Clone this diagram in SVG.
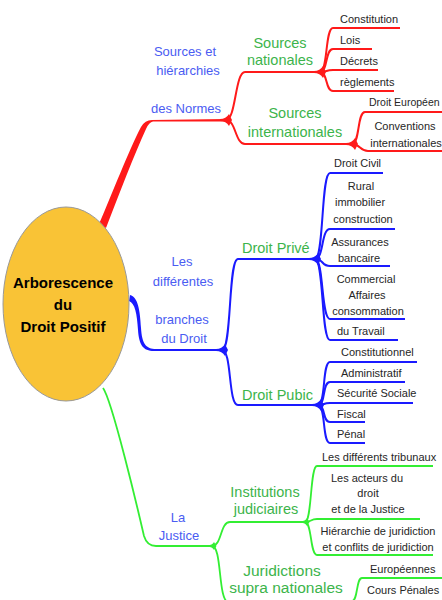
<svg xmlns="http://www.w3.org/2000/svg" width="442" height="600" viewBox="0 0 442 600">
<style>
text{font-family:"Liberation Sans","DejaVu Sans",Arial,sans-serif}
.leaf{font-size:11px;fill:#262626}
.gl{font-size:14.5px;fill:#3cb44b}
.bl{font-size:13px;fill:#4a5cf2}
.m{text-anchor:middle}
.root{font-size:15px;font-weight:bold;fill:#000}
.r{fill:none;stroke:#ff1a1a;stroke-width:2}
.b{fill:none;stroke:#1a1aff;stroke-width:2}
.g{fill:none;stroke:#33ee33;stroke-width:1.8}
.rf{fill:#ff1a1a}.bf{fill:#1a1aff}.gf{fill:#33ee33}
</style>
<defs>
  <path id="fan" d="M-7 -1 Q-1 -1 2 -6 L5 0 L2 6 Q-1 1 -7 1 Z"/>
  <path id="fans" d="M-5 -0.8 Q-1 -0.8 1 -4 L3.5 0 L1 4 Q-1 0.8 -5 0.8 Z"/>
</defs>
<rect width="442" height="600" fill="#fff"/>
<g id="connectors">
  <!-- main branches -->
  <path class="rf" d="M99 224 C113 192 128 152 141 127 Q145 120 152 120 L226 119 L226 121.5 L153 121.5 Q149 122 146 129 C134 155 120 192 106 228 Z"/>
  <path class="bf" d="M130 295 C138 297 140 310 141 328 C142 344 146 349 156 349 L222 349 L222 351 L154 351 C143 351 139 345 138 330 C137 314 135 303 129 301 Z"/>
  <path class="g" d="M103 388 C112 400 138 510 144 536 Q147 546 156 546 L212 546"/>
  <!-- red sub -->
  <path class="r" d="M226 120 C236 120 235 72 245 72 H318"/>
  <path class="r" d="M226 120 C236 120 235 144 245 144 H350"/>
  <use href="#fan" class="rf" x="227" y="120"/>
  <path class="r" d="M320 72 C328 72 325 28 333 28 H400"/>
  <path class="r" d="M320 72 C328 72 325 49 333 49 H372"/>
  <path class="r" d="M320 72 C328 72 325 70 333 70 H378"/>
  <path class="r" d="M320 72 C328 72 325 91 333 91 H394"/>
  <use href="#fan" class="rf" x="321" y="72"/>
  <path class="r" d="M352 144 C360 144 357 112 365 112 H442"/>
  <path class="r" d="M352 144 C360 144 360 151 368 151 H442"/>
  <use href="#fan" class="rf" x="353" y="144"/>
  <!-- blue sub -->
  <path class="b" d="M222 350 C232 350 228 259 238 259 H315"/>
  <path class="b" d="M222 350 C232 350 228 405 238 405 H318"/>
  <use href="#fan" class="bf" x="223" y="350"/>
  <path class="b" d="M315 259 C324 259 321 173 330 173 H383"/>
  <path class="b" d="M315 259 C324 259 321 229 330 229 H395"/>
  <path class="b" d="M315 259 C324 259 321 266 330 266 H390"/>
  <path class="b" d="M315 259 C324 259 321 319 330 319 H405"/>
  <path class="b" d="M315 259 C324 259 321 340 330 340 H398"/>
  <use href="#fan" class="bf" x="316" y="259"/>
  <path class="b" d="M318 405 C326 405 322 362 330 362 H417"/>
  <path class="b" d="M318 405 C326 405 322 382 330 382 H405"/>
  <path class="b" d="M318 405 C326 405 322 403 330 403 H413"/>
  <path class="b" d="M318 405 C326 405 322 422 330 422 H365"/>
  <path class="b" d="M318 405 C326 405 322 443 330 443 H365"/>
  <use href="#fan" class="bf" x="319" y="405"/>
  <!-- green sub -->
  <path class="g" d="M212 546 C222 546 220 522 230 522 H305"/>
  <path class="g" d="M212 546 C222 546 218 600 228 602 H350"/>
  <use href="#fans" class="gf" x="213" y="546"/>
  <path class="g" d="M305 522 C312 522 310 466 317 466 H433"/>
  <path class="g" d="M305 522 C312 522 310 519 317 519 H420"/>
  <path class="g" d="M305 522 C312 522 310 555 317 555 H433"/>
  <use href="#fans" class="gf" x="306" y="522"/>
  <path class="g" d="M352 601 C358 601 356 578 362 578 H442"/>
</g>
<g id="root">
  <ellipse cx="66" cy="304" rx="63" ry="97" fill="#f9c336" stroke="#999" stroke-width="1"/>
  <text class="root m" x="63" y="288">Arborescence</text>
  <text class="root m" x="63" y="310">du</text>
  <text class="root m" x="63" y="332">Droit Positif</text>
</g>
<g id="sources">
  <text class="bl m" x="185" y="56">Sources et</text>
  <text class="bl m" x="188" y="75">hiérarchies</text>
  <text class="bl m" x="186" y="113">des Normes</text>
</g>
<g id="sources-nationales">
  <text class="gl m" x="280" y="48">Sources</text>
  <text class="gl m" x="280" y="65">nationales</text>
</g>
<g id="sources-internationales">
  <text class="gl m" x="295" y="118">Sources</text>
  <text class="gl m" x="295" y="137">internationales</text>
</g>
<g id="constitution"><text class="leaf" x="340" y="23">Constitution</text></g>
<g id="lois"><text class="leaf" x="340" y="44">Lois</text></g>
<g id="decrets"><text class="leaf" x="340" y="65">Décrets</text></g>
<g id="reglements"><text class="leaf" x="340" y="86">règlements</text></g>
<g id="droit-europeen"><text class="leaf" x="369" y="106" style="font-size:10.5px">Droit Européen</text></g>
<g id="conventions">
  <text class="leaf m" x="405" y="130">Conventions</text>
  <text class="leaf m" x="406" y="147">internationales</text>
</g>
<g id="branches">
  <text class="bl m" x="182" y="266">Les</text>
  <text class="bl m" x="183" y="286">différentes</text>
  <text class="bl m" x="182" y="324">branches</text>
  <text class="bl m" x="184" y="343">du Droit</text>
</g>
<g id="droit-prive"><text class="gl" x="242" y="253">Droit Privé</text></g>
<g id="droit-civil"><text class="leaf" x="334" y="167">Droit Civil</text></g>
<g id="rural">
  <text class="leaf m" x="361" y="190">Rural</text>
  <text class="leaf m" x="360" y="206">immobilier</text>
  <text class="leaf m" x="363" y="223">construction</text>
</g>
<g id="assurances">
  <text class="leaf m" x="360" y="246">Assurances</text>
  <text class="leaf m" x="359" y="262">bancaire</text>
</g>
<g id="commercial">
  <text class="leaf m" x="366" y="283">Commercial</text>
  <text class="leaf m" x="367" y="299">Affaires</text>
  <text class="leaf m" x="368" y="315">consommation</text>
</g>
<g id="travail"><text class="leaf" x="337" y="335">du Travail</text></g>
<g id="droit-public"><text class="gl" x="242" y="400">Droit Pubic</text></g>
<g id="constitutionnel"><text class="leaf" x="341" y="356">Constitutionnel</text></g>
<g id="administratif"><text class="leaf" x="341" y="377">Administratif</text></g>
<g id="securite"><text class="leaf" x="337" y="397">Sécurité Sociale</text></g>
<g id="fiscal"><text class="leaf" x="337" y="418">Fiscal</text></g>
<g id="penal"><text class="leaf" x="337" y="438">Pénal</text></g>
<g id="justice">
  <text class="bl m" x="178" y="522">La</text>
  <text class="bl m" x="179" y="540">Justice</text>
</g>
<g id="institutions">
  <text class="gl m" x="265" y="497">Institutions</text>
  <text class="gl m" x="266" y="514">judiciaires</text>
</g>
<g id="tribunaux"><text class="leaf" x="322" y="461">Les différents tribunaux</text></g>
<g id="acteurs">
  <text class="leaf m" x="367" y="482">Les acteurs du</text>
  <text class="leaf m" x="368" y="497">droit</text>
  <text class="leaf m" x="368" y="513">et de la Justice</text>
</g>
<g id="hierarchie">
  <text class="leaf m" x="378" y="535">Hiérarchie de juridiction</text>
  <text class="leaf m" x="378" y="551">et conflits de juridiction</text>
</g>
<g id="juridictions">
  <text class="gl m" x="282" y="576" style="font-size:15.5px">Juridictions</text>
  <text class="gl m" x="286" y="593" style="font-size:15.5px">supra nationales</text>
</g>
<g id="europeennes"><text class="leaf" x="370" y="573">Européennes</text></g>
<g id="cours-penales"><text class="leaf" x="367" y="594">Cours Pénales</text></g>
</svg>
